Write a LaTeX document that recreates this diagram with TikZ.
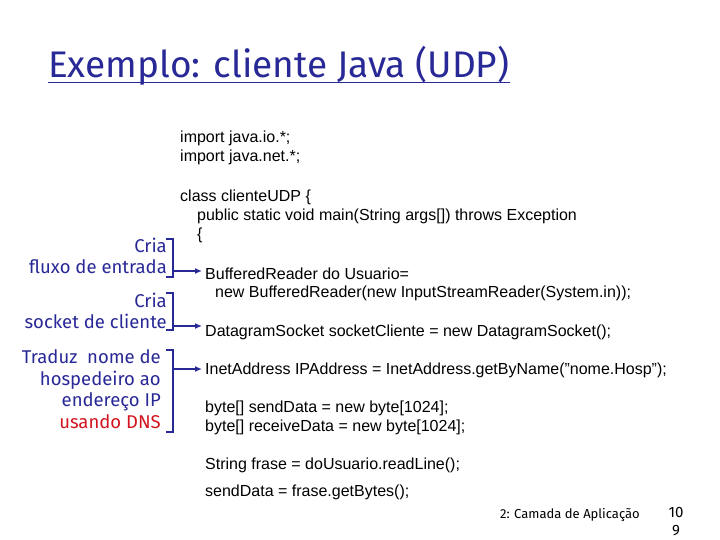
\documentclass[tikz,border=0pt]{standalone}
\usepackage{fontspec}
\usetikzlibrary{arrows.meta}
\setmainfont{Liberation Sans}
\newfontfamily\lblfont{Fira Sans}
\definecolor{navy}{RGB}{40,40,150}
\definecolor{dnsred}{RGB}{210,20,30}
\begin{document}
\begin{tikzpicture}[x=1pt,y=-1pt,
  code/.style={anchor=west,inner sep=0pt,font=\fontsize{16}{18}\selectfont},
  lbl/.style={anchor=east,align=right,inner sep=0pt,text=navy,font=\lblfont\fontsize{18.5}{21.5}\selectfont},
  brk/.style={draw=navy,line width=1.5pt},
  arr/.style={draw=navy,line width=1.5pt,-{Latex[length=7pt,width=6pt]}}]
\useasboundingbox (0,0) rectangle (720,540);
\node[anchor=west,inner sep=0pt,text=navy,font=\lblfont\fontsize{37}{42}\selectfont] (title) at (48,66) {Exemplo: cliente Java (UDP)};
\draw[navy,line width=1.2pt] ([yshift=3]title.south west) coordinate (u1) -- ([yshift=3]title.south east) coordinate (u2);
\node[code] (c1) at (180,138) {import java.io.*;};
\node[code] (c2) at (180,157) {import java.net.*;};
\node[code] (c3) at (180,197) {class clienteUDP \{};
\node[code] (c4) at (197,216) {public static void main(String args[]) throws Exception};
\node[code] (c5) at (197,235) {\{};
\node[code] (c6) at (205,274) {BufferedReader do Usuario=};
\node[code] (c7) at (215,293) {new BufferedReader(new InputStreamReader(System.in));};
\node[code] (c8) at (205,332) {DatagramSocket socketCliente = new DatagramSocket();};
\node[code] (c9) at (205,370) {InetAddress IPAddress = InetAddress.getByName("nome.Hosp");};
\node[code] (c10) at (205,408) {byte[] sendData = new byte[1024];};
\node[code] (c11) at (205,427) {byte[] receiveData = new byte[1024];};
\node[code] (c12) at (205,465) {String frase = doUsuario.readLine();};
\node[code] (c13) at (205,492) {sendData = frase.getBytes();};
\node[lbl] (l1) at (167,256) {Cria\\fluxo de entrada};
\node[lbl] (l2) at (167,311) {Cria\\socket de cliente};
\node[lbl] (l3) at (161,389) {Traduz \ nome de\\hospedeiro ao\\endereço IP\\\textcolor{dnsred}{usando DNS}};
\draw[brk] (166,239) -- (173,239) -- (173,277) -- (166,277);
\draw[brk] (166,293) -- (173,293) -- (173,330) -- (166,330);
\draw[brk] (166,350) -- (173,350) -- (173,432) -- (166,432);
\coordinate (a1) at (173,271); \coordinate (a2) at (173,326); \coordinate (a3) at (173,369);
\draw[arr] (a1) -- ([xshift=-3]c6.west |- a1);
\draw[arr] (a2) -- ([xshift=-3]c8.west |- a2);
\draw[arr] (a3) -- ([xshift=-3]c9.west |- a3);
\node[anchor=east,inner sep=0pt,font=\lblfont\fontsize{13}{15}\selectfont] (f1) at (640,515) {2: Camada de Aplicação};
\node[anchor=center,align=center,inner sep=0pt,font=\lblfont\fontsize{15}{18}\selectfont] (f2) at (676,522) {10\\9};
\end{tikzpicture}
\end{document}
